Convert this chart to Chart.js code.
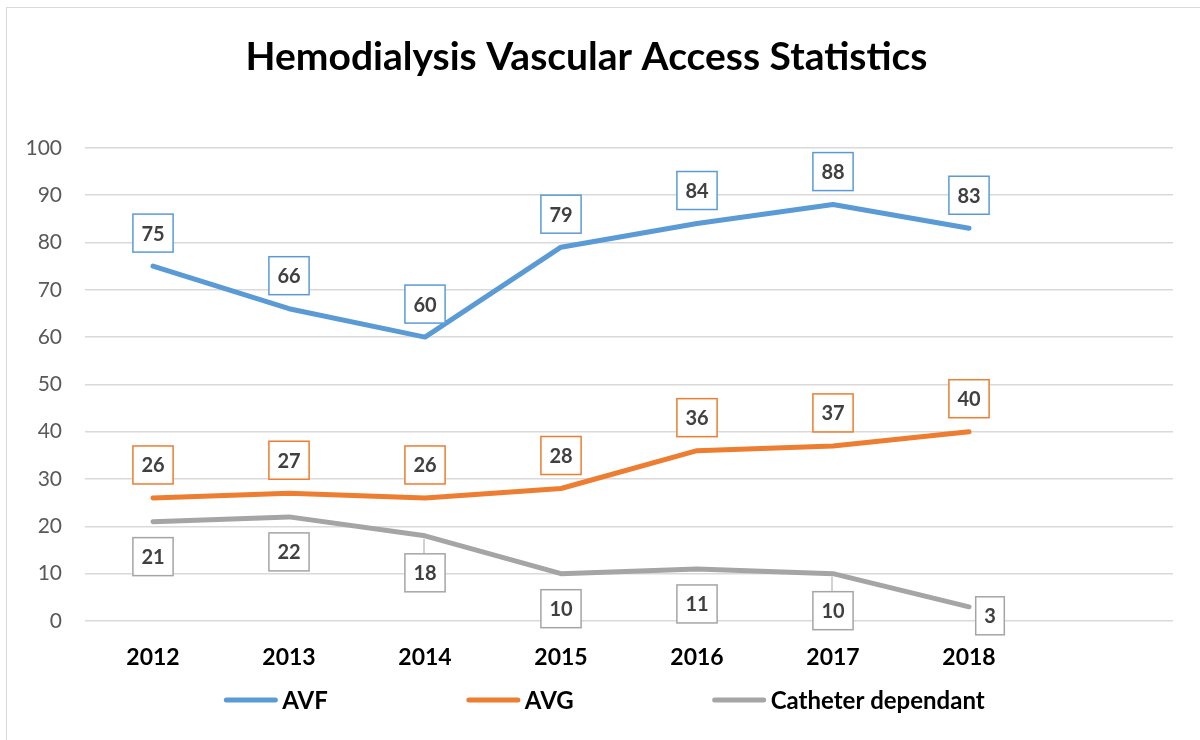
<!DOCTYPE html>
<html>
<head>
<meta charset="utf-8">
<title>Hemodialysis Vascular Access Statistics</title>
<script src="https://cdn.jsdelivr.net/npm/chart.js@4.4.1/dist/chart.umd.min.js"></script>
<style>
  body { margin: 0; background: #fff; }
  #frame { position: absolute; left: 6px; top: 7px; width: 1300px; height: 800px; border: 1px solid #d9d9d9; box-sizing: border-box; }
  #wrap { position: absolute; left: 0; top: 0; width: 1200px; height: 740px; }
</style>
</head>
<body>
<div id="frame"></div>
<div id="wrap"><canvas id="chartLine"></canvas></div>
<script>
// DATA
var years = ['2012', '2013', '2014', '2015', '2016', '2017', '2018', ''];
var avf = [75, 66, 60, 79, 84, 88, 83];
var avg = [26, 27, 26, 28, 36, 37, 40];
var catheter = [21, 22, 18, 10, 11, 10, 3];
var yTicks = [0, 10, 20, 30, 40, 50, 60, 70, 80, 90, 100];

var FONT = 'Lato, "Open Sans", sans-serif';

// BOXED VALUE LABELS (above / below each point)
var valueBoxes = {
  id: 'valueBoxes',
  afterDatasetsDraw: function(chart) {
    var ctx = chart.ctx;
    var area = chart.chartArea;
    ctx.save();
    ctx.font = 'bold 20px ' + FONT;
    ctx.textAlign = 'center';
    ctx.textBaseline = 'middle';
    chart.data.datasets.forEach(function(ds, di) {
      var meta = chart.getDatasetMeta(di);
      meta.data.forEach(function(pt, i) {
        var txt = String(ds.data[i]);
        var w = ctx.measureText(txt).width + 17;
        var h = 38;
        var cx = pt.x;
        var cy = ds.labelSide === 'below' ? pt.y + 35 : pt.y - 33;
        // keep the box inside the plot: slide it right of the point
        if (cy + h / 2 > area.bottom + 14) {
          cx = pt.x + 21;
          cy = pt.y + 9;
        }
        // leader line when pushed further away
        if (ds.labelSide === 'below' && i > 0 && i < meta.data.length - 1) {
          var prev = meta.data[i - 1].y, next = meta.data[i + 1].y;
          if (prev < pt.y && next > pt.y) {
            cy = pt.y + 37;
            ctx.strokeStyle = ds.borderColor;
            ctx.lineWidth = 1;
            ctx.beginPath();
            ctx.moveTo(cx - 1, pt.y + 3);
            ctx.lineTo(cx - 1, cy - h / 2);
            ctx.stroke();
          }
        }
        ctx.fillStyle = '#fff';
        ctx.fillRect(cx - w / 2, cy - h / 2, w, h);
        ctx.strokeStyle = ds.borderColor;
        ctx.lineWidth = 1.5;
        ctx.strokeRect(cx - w / 2, cy - h / 2, w, h);
        ctx.fillStyle = '#404040';
        ctx.fillText(txt, cx, cy + 1);
      });
    });
    ctx.restore();
  }
};

// LEGEND (line + bold name, spaced like the original)
var bottomLegend = {
  id: 'bottomLegend',
  afterDraw: function(chart) {
    var ctx = chart.ctx;
    var lineLen = 55, gapText = 4, gapItem = 138, y = 700;
    ctx.save();
    ctx.font = 'bold 24px ' + FONT;
    var items = chart.data.datasets.map(function(ds) {
      return { ds: ds, w: lineLen + gapText + ctx.measureText(ds.label).width };
    });
    var total = 0;
    items.forEach(function(it, i) { total += it.w + (i ? gapItem : 0); });
    var x = 604 - total / 2;
    items.forEach(function(it) {
      ctx.strokeStyle = it.ds.borderColor;
      ctx.lineWidth = 5;
      ctx.lineCap = 'round';
      ctx.beginPath();
      ctx.moveTo(x + 3, y);
      ctx.lineTo(x + lineLen - 3, y);
      ctx.stroke();
      ctx.fillStyle = '#000';
      ctx.textAlign = 'left';
      ctx.textBaseline = 'middle';
      ctx.fillText(it.ds.label, x + lineLen + gapText, y + 1);
      x += it.w + gapItem;
    });
    ctx.restore();
  }
};

const lineData = {
  labels: years,
  datasets: [
    { label: 'AVF', data: avf, borderColor: '#5b9bd5', labelSide: 'above' },
    { label: 'AVG', data: avg, borderColor: '#ed7d31', labelSide: 'above' },
    { label: 'Catheter dependant', data: catheter, borderColor: '#a5a5a5', labelSide: 'below' }
  ].map(function(d) {
    d.borderWidth = 5;
    d.borderCapStyle = 'round';
    d.borderJoinStyle = 'round';
    d.pointRadius = 0;
    d.tension = 0;
    d.fill = false;
    return d;
  })
};

const configLine = {
  type: 'line',
  data: lineData,
  options: {
    responsive: false,
    animation: false,
    layout: { padding: { top: 0, right: 27, bottom: 0, left: 0 } },
    plugins: {
      legend: { display: false },
      tooltip: { enabled: false },
      title: {
        display: true,
        text: 'Hemodialysis Vascular Access Statistics',
        color: '#000',
        font: { family: FONT, size: 39, weight: 'bold' },
        padding: { top: 34, bottom: 67 }
      }
    },
    scales: {
      x: {
        offset: true,
        grid: { display: false },
        border: { display: false },
        ticks: { color: '#000', font: { family: FONT, size: 23, weight: 'bold' }, padding: 15, maxRotation: 0 },
        afterFit: function(scale) { scale.height = 119; }
      },
      y: {
        min: 0,
        max: 100,
        grid: { color: '#d9d9d9', lineWidth: 1.5, drawTicks: false },
        border: { display: false },
        ticks: {
          stepSize: 10,
          color: '#595959',
          padding: 23,
          font: { family: FONT, size: 21 },
          callback: function(v) { return yTicks.indexOf(v) >= 0 ? v : ''; }
        },
        afterFit: function(scale) { scale.width = 85; }
      }
    }
  },
  plugins: [valueBoxes, bottomLegend]
};

var canvas = document.getElementById('chartLine');
canvas.width = 1200;
canvas.height = 740;
var chartLine = new Chart(canvas, configLine);
</script>
</body>
</html>
